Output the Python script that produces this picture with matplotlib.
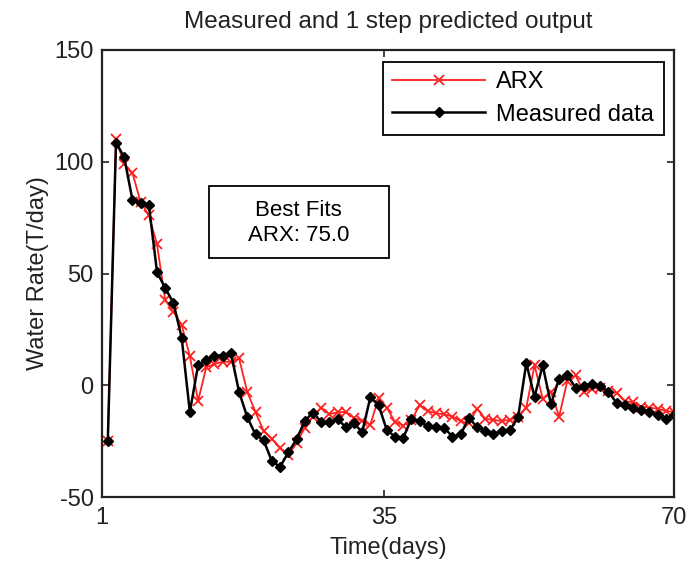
import numpy as np
import matplotlib.pyplot as plt
from matplotlib.patches import Rectangle

# daily water rate, measured vs ARX one-step prediction
measured = [-25, 108.6, 102, 83, 81.6, 80.7, 50.6, 43.5, 36.8, 21.3,
            -12, 8.9, 11.5, 13.3, 13.3, 14.4, -3, -14.3, -22, -24.7,
            -34, -36.5, -30, -24.2, -16, -12.2, -16.4, -16.4, -15.3, -18.6,
            -17, -21, -5.3, -8.9, -20, -23, -23.5, -15, -16, -18.3,
            -18.6, -19, -23, -22, -14.6, -18.6, -20.4, -21.7, -20.4, -20.2,
            -14.3, 9.9, -5.2, 8.9, -8.5, 3, 4.4, -1, -0.2, 0.4,
            -0.4, -3, -7.8, -8.6, -10, -11.2, -12, -13.1, -15.2, -13.3]
arx = [-25, 110, 99, 95, 82, 76, 63, 38, 33, 27,
       13, -7, 8, 9.5, 10.5, 10.5, 12, -3, -12, -20.5,
       -24, -28, -31, -26, -19, -14, -10, -13, -12, -12,
       -14.6, -16, -17.6, -5.6, -10, -16.4, -18, -15.5, -9, -11.5,
       -12.5, -13, -14, -16, -17, -10.5, -15, -15.5, -16, -15.5,
       -14, -10, 9, -6, -3, -14, 2, 4.5, -3, -1.5,
       -1, -2.5, -3.4, -7.2, -7.5, -9.5, -10, -10.5, -11.5, -12]
days = np.linspace(1.7, 70, len(measured))

xticks = [1, 35, 70]
yticks = [-50, 0, 50, 100, 150]
best_fit = 75.0

plt.rcParams['font.family'] = ['Liberation Sans', 'DejaVu Sans']
plt.rcParams['axes.unicode_minus'] = False
ink = '#222222'

fig = plt.figure(figsize=(6.91, 5.70), dpi=100)
ax = fig.add_axes([0.1476, 0.128, 0.8278, 0.7843])

ax.plot(days, arx, color='#ff2020', lw=1.3, marker='x', ms=7, mew=1.3, label='ARX')
ax.plot(days, measured, color='black', lw=1.8, marker='D', ms=5, label='Measured data')

ax.set_xlim(1, 70)
ax.set_ylim(-50, 150)
ax.set_xticks(xticks)
ax.set_yticks(yticks)
ax.tick_params(direction='in', top=True, right=True, length=5, width=1.2,
               labelsize=17, colors=ink)
ax.tick_params(axis='x', pad=7)
ax.tick_params(axis='y', pad=6)
for s in ax.spines.values():
    s.set_linewidth(1.6)
    s.set_color(ink)

ax.set_title('Measured and 1 step predicted output', fontsize=17.5, color=ink, pad=16)
ax.set_xlabel('Time(days)', fontsize=17, color=ink, labelpad=6)
ax.set_ylabel('Water Rate(T/day)', fontsize=17, color=ink, labelpad=4)

leg = ax.legend(loc='upper right', bbox_to_anchor=(0.982, 0.974), fontsize=17,
                fancybox=False, framealpha=1, edgecolor='black', borderpad=0.4,
                handlelength=3.9, handletextpad=0.5, labelspacing=0.45,
                borderaxespad=0)
leg.get_frame().set_linewidth(1.3)

# text box with the fit score
ax.add_patch(Rectangle((0.187, 0.535), 0.315, 0.161, transform=ax.transAxes,
                       fc='white', ec='black', lw=1.3, zorder=4))
ax.text(0.344, 0.613, 'Best Fits\nARX: %.1f' % best_fit, transform=ax.transAxes,
        ha='center', va='center', fontsize=16, linespacing=1.25, zorder=5)

fig.savefig('out.png', dpi=100)
